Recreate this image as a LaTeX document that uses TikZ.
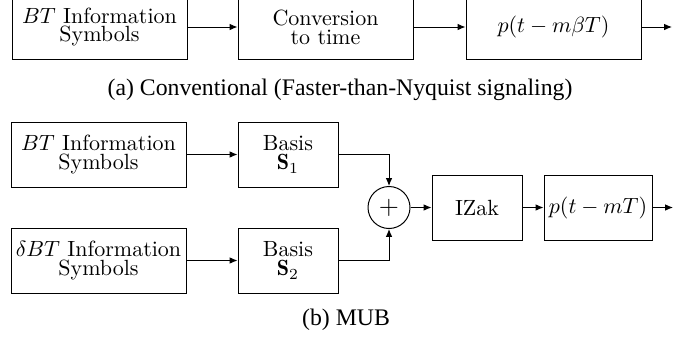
\documentclass[tikz,border=0pt]{standalone}
\usepackage{fontspec}
\newfontfamily\capfont{Liberation Serif}
\usetikzlibrary{arrows.meta}
\begin{document}
\begin{tikzpicture}[x=0.4545pt,y=-0.4545pt,
  blk/.style={draw,line width=0.45pt,minimum height={65*0.4545pt},inner sep=1pt,align=center,font=\normalsize},
  wide/.style={blk,minimum width={175*0.4545pt}},
  basis/.style={blk,minimum width={100*0.4545pt}},
  sumc/.style={draw,line width=0.45pt,circle,minimum size={42*0.4545pt},inner sep=0pt,font=\large},
  conn/.style={line width=0.45pt,-{Latex[length=3.6pt,width=3pt]}},
  captxt/.style={font=\capfont\fontsize{10.8pt}{12pt}\selectfont}]
\useasboundingbox (0,0) rectangle (694,339);
% (a)
\node[wide] (a1) at (99.5,27) {$BT$ Information\\[-3.4pt]Symbols};
\node[wide] (a2) at (325.5,27) {Conversion\\[-3.4pt]to time};
\node[wide] (a3) at (553.5,27) {$p(t-m\beta T)$};
\coordinate (aout) at (672,27);
\draw[conn] (a1) -- (a2);
\draw[conn] (a2) -- (a3);
\draw[conn] (a3) -- (aout);
\node[captxt] (capa) at (340,90) {(a) Conventional (Faster-than-Nyquist signaling)};
% (b)
\node[wide] (b1) at (98.5,154.5) {$BT$ Information\\[-3.4pt]Symbols};
\node[basis] (s1) at (288,154.5) {Basis\\[-3.4pt]$\mathbf{S}_1$};
\node[wide] (b2) at (98.5,260.5) {$\delta BT$ Information\\[-3.4pt]Symbols};
\node[basis] (s2) at (288,260.5) {Basis\\[-3.4pt]$\mathbf{S}_2$};
\node[sumc] (sum) at (389,207.5) {$+$};
\node[blk,minimum width={90*0.4545pt}] (izak) at (477,207.5) {IZak};
\node[blk,minimum width={108*0.4545pt}] (pb) at (598,207.5) {$p(t-mT)$};
\coordinate (bout) at (673,207.5);
\draw[conn] (b1) -- (s1);
\draw[conn] (b2) -- (s2);
\draw[conn] (s1.east) -| (sum.north);
\draw[conn] (s2.east) -| (sum.south);
\draw[conn] (sum) -- (izak);
\draw[conn] (izak) -- (pb);
\draw[conn] (pb) -- (bout);
\node[captxt] (capb) at (346,320) {(b) MUB};
\end{tikzpicture}
\end{document}
